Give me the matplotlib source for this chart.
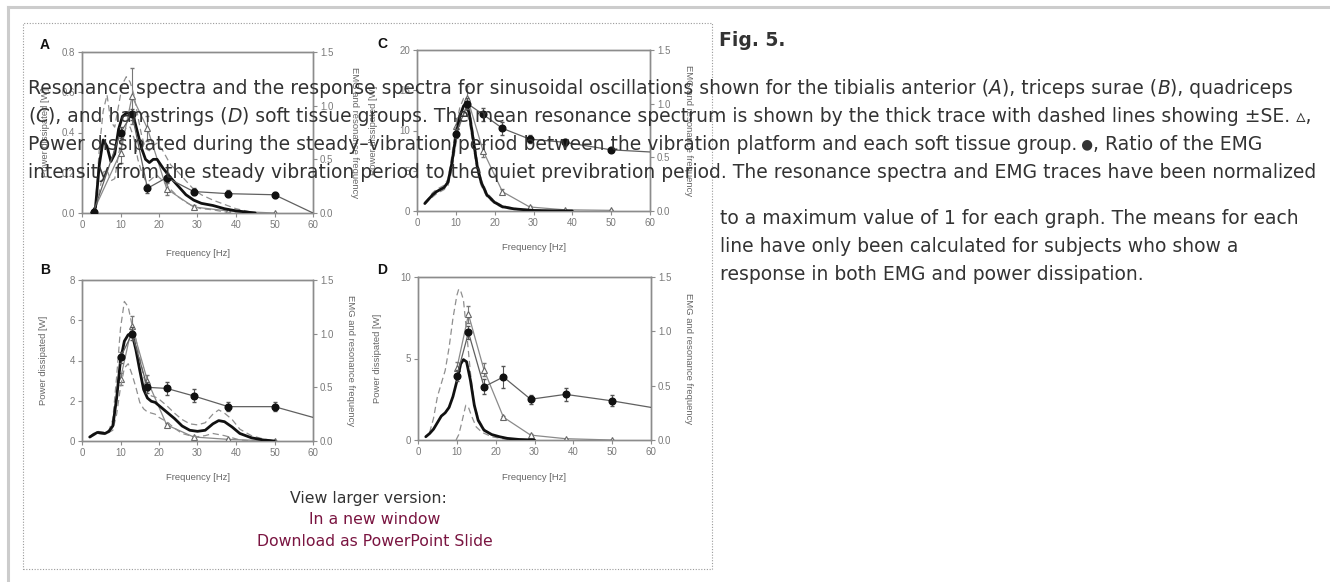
import matplotlib
matplotlib.use("Agg")
import matplotlib.pyplot as plt
from matplotlib.patches import Rectangle
from matplotlib.lines import Line2D

# ---------------- data ----------------
freq_ticks = [0, 10, 20, 30, 40, 50, 60]
right_ticks = [0.0, 0.5, 1.0, 1.5]

# Panel A - tibialis anterior
A_mean_f = [2.5, 3.5, 4.5, 5.5, 6.5, 7.5, 8.5, 9.5, 10.5, 11.5, 12.5, 13.5, 14.5, 15.5, 16.5, 17.5, 18.5, 19.5, 21, 23, 25, 27, 29, 31, 34, 37, 40, 45]
A_mean_v = [0, 0.05, 0.45, 0.68, 0.62, 0.48, 0.55, 0.78, 0.9, 0.93, 0.93, 0.88, 0.74, 0.6, 0.5, 0.47, 0.5, 0.5, 0.42, 0.33, 0.25, 0.17, 0.12, 0.09, 0.07, 0.04, 0.02, 0]
A_up_f = A_mean_f
A_up_v = [0, 0.08, 0.6, 0.95, 1.1, 0.85, 0.8, 1.0, 1.2, 1.27, 1.22, 1.1, 0.9, 0.72, 0.6, 0.58, 0.63, 0.65, 0.58, 0.45, 0.38, 0.3, 0.22, 0.17, 0.12, 0.08, 0.04, 0]
A_lo_f = A_mean_f
A_lo_v = [0, 0.02, 0.2, 0.38, 0.4, 0.3, 0.32, 0.55, 0.7, 0.8, 0.8, 0.7, 0.5, 0.38, 0.3, 0.3, 0.33, 0.35, 0.3, 0.22, 0.15, 0.1, 0.06, 0.04, 0.03, 0.01, 0, 0]
A_tri_f = [3, 10, 13, 17, 22, 29, 38, 50]
A_tri_v = [0.01, 0.3, 0.58, 0.42, 0.12, 0.03, 0.01, 0.0]
A_tri_e = [0, 0.05, 0.14, 0.06, 0.03, 0.01, 0, 0]
A_cir_f = [3, 10, 13, 17, 22, 29, 38, 50]
A_cir_v = [0.01, 0.75, 0.92, 0.23, 0.33, 0.2, 0.18, 0.17]
A_cir_e = [0, 0.05, 0.05, 0.04, 0.04, 0.03, 0.03, 0.03]
A_cir_end = 0.0

# Panel B - triceps surae
B_mean_f = [2, 3, 4, 5, 6, 7, 8, 9, 10, 11, 12, 13, 14, 15, 16, 17, 18, 19, 20, 22, 24, 26, 28, 30, 32, 34, 35.5, 37, 39, 41, 44, 47, 50]
B_mean_v = [0.037, 0.06, 0.08, 0.075, 0.07, 0.09, 0.14, 0.4, 0.75, 0.93, 0.99, 1.0, 0.85, 0.66, 0.48, 0.4, 0.37, 0.36, 0.33, 0.27, 0.21, 0.14, 0.1, 0.09, 0.1, 0.16, 0.19, 0.18, 0.13, 0.07, 0.03, 0.01, 0]
B_up_f = B_mean_f
B_up_v = [0.04, 0.07, 0.09, 0.085, 0.08, 0.1, 0.2, 0.6, 1.05, 1.3, 1.25, 1.08, 0.95, 0.78, 0.6, 0.48, 0.42, 0.41, 0.39, 0.33, 0.26, 0.2, 0.16, 0.15, 0.17, 0.25, 0.29, 0.26, 0.2, 0.11, 0.05, 0.02, 0]
B_lo_f = B_mean_f
B_lo_v = [0.03, 0.05, 0.07, 0.065, 0.06, 0.08, 0.1, 0.25, 0.5, 0.68, 0.72, 0.62, 0.5, 0.36, 0.3, 0.27, 0.26, 0.25, 0.22, 0.18, 0.12, 0.07, 0.05, 0.04, 0.05, 0.07, 0.06, 0.05, 0.03, 0.01, 0, 0, 0]
B_tri_f = [10, 13, 17, 22, 29, 38, 50]
B_tri_v = [3.1, 5.7, 3.0, 0.8, 0.2, 0.08, 0.0]
B_tri_e = [0.3, 0.5, 0.3, 0.1, 0.05, 0, 0]
B_cir_f = [10, 13, 17, 22, 29, 38, 50]
B_cir_v = [0.78, 1.0, 0.5, 0.49, 0.42, 0.32, 0.32]
B_cir_e = [0.05, 0.06, 0.05, 0.06, 0.06, 0.04, 0.04]
B_cir_end = 0.22

# Panel C - quadriceps
C_mean_f = [2, 3, 4, 5, 6, 7, 8, 9, 10, 11, 12, 12.7, 13.5, 14.5, 15.5, 16.5, 18, 20, 22, 25, 30, 35, 40]
C_mean_v = [0.07, 0.11, 0.15, 0.18, 0.2, 0.22, 0.27, 0.45, 0.7, 0.88, 0.98, 1.0, 0.9, 0.66, 0.42, 0.27, 0.15, 0.08, 0.04, 0.02, 0.005, 0.002, 0]
C_up_f = C_mean_f
C_up_v = [0.08, 0.12, 0.17, 0.2, 0.22, 0.24, 0.3, 0.52, 0.78, 0.96, 1.05, 1.06, 0.97, 0.72, 0.47, 0.3, 0.17, 0.09, 0.05, 0.025, 0.008, 0.003, 0]
C_lo_f = C_mean_f
C_lo_v = [0.06, 0.1, 0.13, 0.16, 0.18, 0.2, 0.24, 0.38, 0.62, 0.8, 0.9, 0.93, 0.83, 0.6, 0.37, 0.24, 0.13, 0.07, 0.03, 0.015, 0.003, 0.001, 0]
C_tri_f = [10, 13, 17, 22, 29, 38, 50]
C_tri_v = [10.5, 14.0, 7.5, 2.4, 0.5, 0.15, 0.08]
C_tri_e = [1.0, 1.5, 0.8, 0.3, 0.1, 0, 0]
C_cir_f = [10, 13, 17, 22, 29, 38, 50]
C_cir_v = [0.72, 1.0, 0.9, 0.77, 0.67, 0.64, 0.57]
C_cir_e = [0.04, 0.05, 0.06, 0.06, 0.04, 0.03, 0.02]
C_cir_end = 0.55

# Panel D - hamstrings
D_mean_f = [2, 3, 4, 5, 6, 7, 8, 9, 10, 11, 11.7, 12.5, 13.5, 14.5, 15.5, 17, 19, 21, 23, 26, 30]
D_mean_v = [0.03, 0.06, 0.1, 0.16, 0.22, 0.25, 0.3, 0.4, 0.54, 0.7, 0.74, 0.72, 0.55, 0.32, 0.18, 0.09, 0.05, 0.03, 0.015, 0.005, 0]
D_up_f = [3, 4, 5, 6, 7, 8, 9, 10, 10.5, 11, 11.7, 12.5, 13.5, 14.5, 15.5, 17, 19, 21, 24, 28]
D_up_v = [0.07, 0.2, 0.4, 0.52, 0.64, 0.85, 1.12, 1.33, 1.39, 1.37, 1.29, 1.0, 0.62, 0.33, 0.2, 0.1, 0.05, 0.03, 0.01, 0]
D_lo_f = [9.8, 10.5, 11.2, 12.3, 13, 13.8, 15, 16.5, 19, 22, 25]
D_lo_v = [0, 0.05, 0.15, 0.32, 0.3, 0.22, 0.12, 0.07, 0.03, 0.01, 0]
D_tri_f = [10, 13, 17, 22, 29, 38, 50]
D_tri_v = [4.4, 7.7, 4.3, 1.4, 0.3, 0.08, 0.0]
D_tri_e = [0.4, 0.5, 0.4, 0.1, 0.05, 0, 0]
D_cir_f = [10, 13, 17, 22, 29, 38, 50]
D_cir_v = [0.59, 0.99, 0.49, 0.58, 0.375, 0.42, 0.36]
D_cir_e = [0.05, 0.06, 0.07, 0.1, 0.04, 0.06, 0.05]
D_cir_end = 0.30

A_left_ticks = [0.0, 0.2, 0.4, 0.6, 0.8]
A_left_labels = ["0.0", "0.2", "0.4", "0.6", "0.8"]
B_left_ticks = [0, 2, 4, 6, 8]
B_left_labels = ["0", "2", "4", "6", "8"]
C_left_ticks = [0, 5, 10, 15, 20]
C_left_labels = ["0", "5", "10", "15", "20"]
D_left_ticks = [0, 5, 10]
D_left_labels = ["0", "5", "10"]

caption_line1 = [("Resonance spectra and the response spectra for sinusoidal oscillations shown for the tibialis anterior (", "normal", 1.0),
                 ("A", "italic", 1.0), ("), triceps surae (", "normal", 1.0), ("B", "italic", 1.0), ("), quadriceps", "normal", 1.0)]
caption_line2 = [("(", "normal", 1.0), ("C", "italic", 1.0), ("), and hamstrings (", "normal", 1.0), ("D", "italic", 1.0),
                 (") soft tissue groups. The mean resonance spectrum is shown by the thick trace with dashed lines showing \u00b1SE. \u25b5,", "normal", 1.0)]
caption_line3 = [("Power dissipated during the steady\u2013vibration period between the vibration platform and each soft tissue group.", "normal", 1.0),
                 (" \u25cf", "normal", 0.72), (", Ratio of the EMG", "normal", 1.0)]
caption_line4 = [("intensity from the steady vibration period to the quiet previbration period. The resonance spectra and EMG traces have been normalized", "normal", 1.0)]
caption_right = ["to a maximum value of 1 for each graph. The means for each",
                 "line have only been calculated for subjects who show a",
                 "response in both EMG and power dissipation."]

# ---------------- figure ----------------
W, H = 1330, 582
fig = plt.figure(figsize=(W / 100, H / 100), dpi=100)
fig.patch.set_facecolor("white")
PLOT_FONT = ["Liberation Sans", "DejaVu Sans"]
PAGE_FONT = ["DejaVu Sans"]


def fx(x):
    return x / W


def fy(y):
    return 1 - y / H


def ftext(x, y, s, **kw):
    return fig.text(fx(x), fy(y), s, **kw)


# page decorations
fig.add_artist(Line2D([fx(8), fx(W)], [fy(7), fy(7)], color="#cccccc", lw=2.2))
fig.add_artist(Line2D([fx(8), fx(8)], [fy(7), fy(H)], color="#cccccc", lw=2.2))
fig.add_artist(Rectangle((fx(23), fy(569)), fx(712) - fx(23), fy(23) - fy(569), transform=fig.transFigure,
                         fill=False, edgecolor="#9a9a9a", lw=0.8, linestyle=(0, (1, 1.5))))

GRAY_AX = "#8c8c8c"
GRAY_TXT = "#7a7a7a"


def panel(box, letter, lxy, ylab_x, ylab2_x, freq_y, ymax, lticks, llabels,
          mf, mv, uf, uv, lf, lv, tf, tv, te, cf, cv, ce, cend):
    x0, y0, x1, y1 = box
    ax = fig.add_axes([fx(x0), fy(y1), fx(x1) - fx(x0), fy(y0) - fy(y1)])
    ax2 = ax.twinx()
    ax.set_xlim(0, 60)
    ax.set_ylim(0, ymax)
    ax2.set_ylim(0, 1.5)
    ax.set_xticks(freq_ticks)
    ax.set_xticklabels([str(t) for t in freq_ticks])
    ax.set_yticks(lticks)
    ax.set_yticklabels(llabels)
    ax2.set_yticks(right_ticks)
    ax2.set_yticklabels(["%.1f" % t for t in right_ticks])
    for a in (ax, ax2):
        a.set_facecolor("none")
        for sp in a.spines.values():
            sp.set_color(GRAY_AX)
            sp.set_linewidth(1.0)
        a.tick_params(direction="out", length=3, width=0.8, color=GRAY_AX, labelcolor=GRAY_TXT,
                      labelsize=7, pad=2)
        for lab in a.get_xticklabels() + a.get_yticklabels():
            lab.set_family(PLOT_FONT)
    ax.patch.set_visible(False)

    # power dissipated (left axis) - open triangles
    ax.plot(tf, tv, color="#8a8a8a", lw=0.9, zorder=3)
    ax.errorbar(tf, tv, yerr=te, fmt="none", ecolor="#777777", elinewidth=0.8, capsize=1.5, zorder=3)
    ax.plot(tf, tv, linestyle="none", marker="^", ms=4.5, mfc="white", mec="#666666", mew=0.8, zorder=4)

    # resonance spectra (right axis)
    ax2.plot(uf, uv, color="#8f8f8f", lw=0.9, dashes=(5, 3), zorder=2)
    ax2.plot(lf, lv, color="#8f8f8f", lw=0.9, dashes=(5, 3), zorder=2)
    ax2.plot(mf, mv, color="#111111", lw=2.0, zorder=3, solid_capstyle="round")

    # EMG ratio (right axis) - filled circles
    ax2.plot(list(cf) + [60], list(cv) + [cend], color="#606060", lw=0.9, zorder=3)
    ax2.errorbar(cf, cv, yerr=ce, fmt="none", ecolor="#555555", elinewidth=0.8, capsize=1.5, zorder=4)
    ax2.plot(cf, cv, linestyle="none", marker="o", ms=4.8, mfc="#111111", mec="#111111", zorder=5)

    ftext(lxy[0], lxy[1], letter, fontsize=10, fontweight="bold", color="#111111",
          family=PLOT_FONT, ha="center", va="center")
    yc = (y0 + y1) / 2
    ftext(ylab_x, yc, "Power dissipated [W]", fontsize=6.8, color="#666666", family=PLOT_FONT,
          rotation=90, ha="center", va="center")
    ftext(ylab2_x, yc, "EMG and resonance frequency", fontsize=6.8, color="#666666", family=PLOT_FONT,
          rotation=270, ha="center", va="center")
    ftext((x0 + x1) / 2, freq_y, "Frequency [Hz]", fontsize=6.8, color="#666666", family=PLOT_FONT,
          ha="center", va="center")


panel((82, 52, 313, 213), "A", (45, 45), 46, 354, 253, 0.8, A_left_ticks, A_left_labels,
      A_mean_f, A_mean_v, A_up_f, A_up_v, A_lo_f, A_lo_v, A_tri_f, A_tri_v, A_tri_e,
      A_cir_f, A_cir_v, A_cir_e, A_cir_end)
panel((417, 50, 650, 211), "C", (382, 44), 374, 689, 248, 20, C_left_ticks, C_left_labels,
      C_mean_f, C_mean_v, C_up_f, C_up_v, C_lo_f, C_lo_v, C_tri_f, C_tri_v, C_tri_e,
      C_cir_f, C_cir_v, C_cir_e, C_cir_end)
panel((82, 280, 313, 441), "B", (45, 270), 44, 351, 478, 8, B_left_ticks, B_left_labels,
      B_mean_f, B_mean_v, B_up_f, B_up_v, B_lo_f, B_lo_v, B_tri_f, B_tri_v, B_tri_e,
      B_cir_f, B_cir_v, B_cir_e, B_cir_end)
panel((418, 277, 651, 440), "D", (382, 270), 377, 688, 478, 10, D_left_ticks, D_left_labels,
      D_mean_f, D_mean_v, D_up_f, D_up_v, D_lo_f, D_lo_v, D_tri_f, D_tri_v, D_tri_e,
      D_cir_f, D_cir_v, D_cir_e, D_cir_end)

# ---------------- page text ----------------
renderer = fig.canvas.get_renderer()
TEXT_COL = "#333333"


def fit_size(s, target_w, base=13.0, weight="normal"):
    t = fig.text(0, 0, s, fontsize=base, family=PAGE_FONT, fontweight=weight)
    w = t.get_window_extent(renderer).width
    t.remove()
    return base * target_w / w


def draw_runs(x, y, runs, size, color=TEXT_COL):
    for txt, style, scale in runs:
        t = ftext(x, y, txt, fontsize=size * scale, color=color, style=style, family=PAGE_FONT,
                  ha="left", va="center")
        x += t.get_window_extent(renderer).width
        if txt.endswith(",") or txt.endswith("."):
            pass


cap_size = fit_size("".join(r[0] for r in caption_line1), 1292 - 28)

ftext(719, 40, "Fig. 5.", fontsize=cap_size, fontweight="bold", color=TEXT_COL, family=PAGE_FONT,
      ha="left", va="center")
draw_runs(28, 88, caption_line1, cap_size)
draw_runs(28, 116, caption_line2, cap_size)
draw_runs(28, 144, caption_line3, cap_size)
draw_runs(28, 172, caption_line4, cap_size)
for i, line in enumerate(caption_right):
    ftext(720, 219 + 28 * i, line, fontsize=cap_size, color=TEXT_COL, family=PAGE_FONT,
          ha="left", va="center")

link_size = fit_size("Download as PowerPoint Slide", 236)
ftext(368, 498, "View larger version:", fontsize=link_size, color=TEXT_COL, family=PAGE_FONT,
      ha="center", va="center")
ftext(375, 519, "In a new window", fontsize=link_size, color="#7a1541", family=PAGE_FONT,
      ha="center", va="center")
ftext(375, 542, "Download as PowerPoint Slide", fontsize=link_size, color="#7a1541", family=PAGE_FONT,
      ha="center", va="center")

fig.savefig("out.png", dpi=100, facecolor="white")
